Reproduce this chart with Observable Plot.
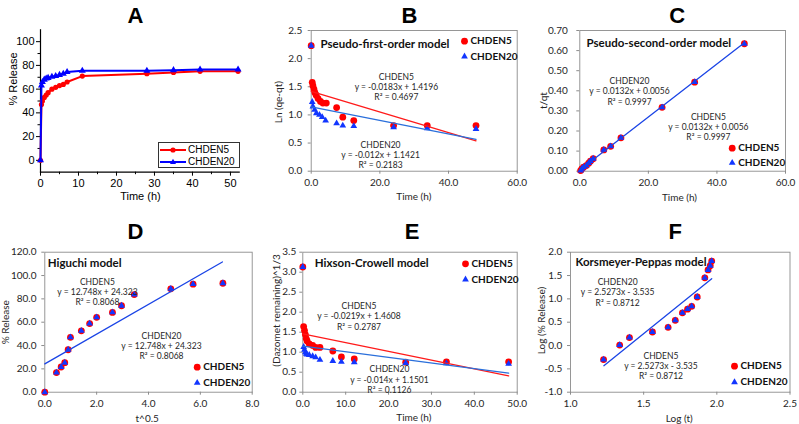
<!DOCTYPE html>
<html><head><meta charset="utf-8">
<script src="https://cdn.jsdelivr.net/npm/d3@7"></script>
<script src="https://cdn.jsdelivr.net/npm/@observablehq/plot@0.6"></script>
<style>
html,body{margin:0;padding:0;background:#fff;}
#wrap{position:relative;width:799px;height:424px;overflow:hidden;background:#fff;}
.cell{position:absolute;}
.cell svg{display:block;overflow:visible;}
.legA{position:absolute;left:158px;top:142px;width:80px;height:24px;border:1px solid #333;background:#fff;font-family:"Liberation Sans",Arial,sans-serif;font-size:10px;color:#000;}
.legA .row{position:absolute;left:0;height:12px;display:flex;align-items:center;}
.legA svg{display:block;}
</style></head><body>
<div id="wrap"></div>
<script>
// ================= DATA =================
// Panel A: cumulative release
const aTime    = [0, 0.25, 0.5, 1, 1.5, 2, 3, 4, 5, 6, 7, 11, 28, 35, 42, 52];
const aCHDEN5  = [0, 47, 50, 53, 55, 57, 60, 61.5, 63, 64, 66, 71, 73, 74, 75, 75];
const aCHDEN20 = [0, 63, 66, 68, 69, 69.5, 70.5, 71, 72, 73, 74.5, 75.5, 75.5, 76, 76.5, 76.5];
const aXTicks = [0, 10, 20, 30, 40, 50];
const aXMinor = [5, 15, 25, 35, 45];
const aYTicks = [0, 20, 40, 60, 80, 100];
const aYMinor = [10, 30, 50, 70, 90];

// Panel B: pseudo-first-order
const bTime5  = [0, 0.3, 0.5, 0.8, 1.05, 1.45, 2, 2.7, 3.4, 4.4, 7.4, 9.2, 12.4, 24, 33.8, 48];
const bLn5    = [2.23, 1.58, 1.52, 1.46, 1.40, 1.35, 1.29, 1.24, 1.21, 1.21, 1.13, 0.96, 0.90, 0.81, 0.81, 0.81];
const bTime20 = [0, 0.3, 0.5, 1, 1.5, 2.4, 3.2, 4.2, 7.4, 9.2, 12.4, 24, 33.8, 48];
const bLn20   = [2.23, 1.23, 1.15, 1.09, 1.03, 1.0, 0.96, 0.90, 0.85, 0.81, 0.80, 0.78, 0.76, 0.75];
const bFitTime = [0, 48];
const bFit5    = [1.42, 0.54];
const bFit20   = [1.142, 0.566];
const bXTicks = [0, 20, 40, 60];
const bYTicks = [0, 0.5, 1, 1.5, 2, 2.5];

// Panel C: pseudo-second-order
const cTime  = [0.25, 0.6, 1.1, 1.9, 2.6, 3.1, 3.9, 7, 9, 12, 24, 33.5, 48];
const cRatio = [0.003, 0.012, 0.02, 0.028, 0.04, 0.05, 0.062, 0.106, 0.124, 0.166, 0.318, 0.443, 0.634];
const cFitTime = [0, 48];
const cFit     = [0.0056, 0.6392];
const cXTicks = [0, 20, 40, 60];
const cYTicks = [0, 0.1, 0.2, 0.3, 0.4, 0.5, 0.6, 0.7];

// Panel D: Higuchi
const dSqrtT   = [0, 0.45, 0.63, 0.77, 0.9, 0.99, 1.41, 1.73, 2.0, 2.61, 2.96, 3.45, 4.86, 5.72, 6.87];
const dRelease = [0, 16.8, 21.6, 25.3, 36.4, 47.0, 52.6, 58.8, 64.2, 68.4, 74.1, 83.7, 88.6, 92.6, 93.4];
const dFitX = [0, 6.85];
const dFit  = [24.323, 111.65];
const dXTicks = [0, 2, 4, 6, 8];
const dYTicks = [0, 20, 40, 60, 80, 100, 120];

// Panel E: Hixson-Crowell
const eTime   = [0, 0.2, 0.4, 0.6, 0.8, 1.0, 1.5, 2.3, 3.0, 4.0, 7, 9, 12, 24, 33.5, 48];
const eVal5   = [3.13, 1.64, 1.54, 1.44, 1.34, 1.28, 1.21, 1.17, 1.12, 1.12, 1.03, 0.88, 0.83, 0.75, 0.76, 0.76];
const eVal20  = [3.13, 1.13, 1.06, 1.0, 0.96, 0.94, 0.93, 0.90, 0.87, 0.81, 0.78, 0.76, 0.75, 0.73, 0.72, 0.71];
const eFitTime = [0, 48];
const eFit5    = [1.4608, 0.4096];
const eFit20   = [1.1501, 0.4781];
const eXTicks = [0, 10, 20, 30, 40, 50];
const eYTicks = [0, 0.5, 1, 1.5, 2, 2.5, 3, 3.5];

// Panel F: Korsmeyer-Peppas
const fLogT   = [1.226, 1.336, 1.403, 1.56, 1.667, 1.716, 1.765, 1.80, 1.828, 1.866, 1.918, 1.94, 1.955, 1.965];
const fLogRel = [-0.30, 0.01, 0.17, 0.29, 0.39, 0.54, 0.70, 0.78, 0.84, 1.04, 1.45, 1.62, 1.71, 1.81];
const fFitX = [1.228, 1.965];
const fFit  = [-0.432, 1.431];
const fXTicks = [1, 1.5, 2, 2.5];
const fYTicks = [-1, -0.5, 0, 0.5, 1, 1.5, 2];

const seriesNames = ["CHDEN5", "CHDEN20"];

// ================= HELPERS =================
const zip = (xs, ys) => xs.map((x, i) => ({x, y: ys[i]}));
const RED = "#ff0000", BLUE = "#1236ff";
const AX = "#8c8c8c", TXT = "#262626";
const FONT_X = "Lato, 'Open Sans', 'Liberation Sans', sans-serif";
const FONT_A = "'Liberation Sans', Arial, sans-serif";
const f1 = d => d.toFixed(1), f2 = d => d.toFixed(2);

function place(node, left, top) {
  const d = document.createElement("div");
  d.className = "cell";
  d.style.left = left + "px"; d.style.top = top + "px";
  d.appendChild(node);
  document.getElementById("wrap").appendChild(d);
}

function excelPanel(c) {
  const marks = [
    Plot.axisX({ticks: c.xTicks, tickSize: 3, tickPadding: 4.4, tickFormat: c.xFmt, fontSize: 10, stroke: AX, fill: TXT, label: null}),
    Plot.axisY({ticks: c.yTicks, tickSize: 3, tickPadding: c.yPad, tickFormat: c.yFmt, fontSize: 10, stroke: AX, fill: TXT, label: null}),
    Plot.frame({stroke: AX, strokeWidth: 0.9}),
    Plot.dot(c.s5, {x: "x", y: "y", r: 3.4, fill: RED}),
    Plot.dot(c.s20, {x: "x", y: "y", r: 2.5, fill: BLUE, symbol: "triangle"}),
    ...c.fits.map(f => Plot.line(f.data, {x: "x", y: "y", stroke: f.color, strokeWidth: 1.3})),
    Plot.text([c.title], {frameAnchor: "top-left", dx: c.titlePos[0], dy: c.titlePos[1], textAnchor: "start", lineAnchor: "middle", fontWeight: "bold", fontSize: 11.5, fill: "#111"}),
    ...c.notes.map(n => Plot.text([n.text], {x: [n.at[0]], y: [n.at[1]], fontSize: 8.5, lineHeight: 1.2, fill: TXT, lineAnchor: "middle"})),
    Plot.dot([seriesNames[0]], {frameAnchor: "top-left", dx: c.leg[0], dy: c.leg[1], r: 3.4, fill: RED}),
    Plot.dot([seriesNames[1]], {frameAnchor: "top-left", dx: c.leg[0], dy: c.leg[2], r: 2.5, fill: BLUE, symbol: "triangle"}),
    Plot.text([seriesNames[0]], {frameAnchor: "top-left", dx: c.leg[0] + 6, dy: c.leg[1], textAnchor: "start", lineAnchor: "middle", fontWeight: "bold", fontSize: 10, fill: "#111"}),
    Plot.text([seriesNames[1]], {frameAnchor: "top-left", dx: c.leg[0] + 6, dy: c.leg[2], textAnchor: "start", lineAnchor: "middle", fontWeight: "bold", fontSize: 10, fill: "#111"}),
    Plot.text([c.yLabel], {frameAnchor: "left", dx: c.yLab[0], dy: c.yLab[1], rotate: -90, textAnchor: "middle", lineAnchor: "middle", fontSize: 10, fill: TXT}),
    Plot.text([c.xLabel], {frameAnchor: "bottom", dx: c.xLab[0], dy: c.xLab[1], textAnchor: "middle", lineAnchor: "middle", fontSize: 10, fill: TXT}),
    Plot.text([c.letter], {frameAnchor: "top", dx: c.letterPos[0], dy: c.letterPos[1], lineAnchor: "middle", fontSize: 22, fontWeight: "bold", fontFamily: FONT_A, fill: "#000"})
  ];
  const svg = Plot.plot({
    width: c.w, height: c.h,
    marginLeft: c.m[0], marginRight: c.m[1], marginTop: c.m[2], marginBottom: c.m[3],
    x: {domain: c.xDomain}, y: {domain: c.yDomain},
    style: {fontFamily: FONT_X, background: "transparent", overflow: "visible"},
    marks
  });
  place(svg, c.left, c.top);
}

// ================= PANEL A =================
(function () {
  const s5 = zip(aTime, aCHDEN5), s20 = zip(aTime, aCHDEN20);
  const svg = Plot.plot({
    width: 265, height: 210,
    marginLeft: 40, marginRight: 26.3, marginTop: 29.3, marginBottom: 38.3,
    x: {domain: [0, 52.3]}, y: {domain: [-10, 110]},
    style: {fontFamily: FONT_A, background: "transparent", overflow: "visible", color: "#000"},
    marks: [
      Plot.axisX({ticks: aXTicks, tickSize: 4, tickPadding: 3, tickFormat: d => String(d), fontSize: 11, label: null}),
      Plot.axisX({ticks: aXMinor, tickSize: 2.5, fill: "none", label: null}),
      Plot.axisY({ticks: aYTicks, tickSize: 4, tickPadding: 2, tickFormat: d => String(d), fontSize: 11, label: null}),
      Plot.axisY({ticks: aYMinor, tickSize: 2.5, fill: "none", label: null}),
      Plot.frame({anchor: "left", stroke: "#000", strokeWidth: 1.2}),
      Plot.frame({anchor: "bottom", stroke: "#000", strokeWidth: 1.2}),
      Plot.line(s5, {x: "x", y: "y", stroke: RED, strokeWidth: 2}),
      Plot.dot(s5, {x: "x", y: "y", r: 2.6, fill: RED}),
      Plot.line(s20, {x: "x", y: "y", stroke: "#0000ff", strokeWidth: 2}),
      Plot.dot(s20, {x: "x", y: "y", r: 2.6, fill: "#0000ff", symbol: "triangle"}),
      Plot.text(["% Release"], {frameAnchor: "left", dx: -26.7, dy: 4.5, rotate: -90, fontSize: 11}),
      Plot.text(["Time (h)"], {frameAnchor: "bottom", dx: 0.6, dy: 27.3, fontSize: 11}),
      Plot.text(["A"], {frameAnchor: "top", dx: -4.4, dy: -14.3, lineAnchor: "middle", fontSize: 22, fontWeight: "bold"})
    ]
  });
  place(svg, 0, 0);
  // legend for A
  const leg = document.createElement("div");
  leg.className = "legA";
  const rows = [
    {name: seriesNames[0], color: RED, sym: "circle"},
    {name: seriesNames[1], color: "#0000ff", sym: "triangle"}
  ];
  rows.forEach((r, i) => {
    const row = document.createElement("div");
    row.className = "row";
    row.style.top = (i === 0 ? 0.5 : 12.5) + "px";
    const marker = r.sym === "circle"
      ? `<circle cx="14" cy="6" r="2.6" fill="${r.color}"/>`
      : `<path d="M14,2.8L17,8L11,8Z" fill="${r.color}"/>`;
    row.innerHTML = `<svg width="29" height="12"><line x1="1" x2="27" y1="6" y2="6" stroke="${r.color}" stroke-width="2"/>${marker}</svg><span style="margin-left:0px">${r.name}</span>`;
    leg.appendChild(row);
  });
  document.getElementById("wrap").appendChild(leg);
})();

// ================= PANEL B =================
excelPanel({
  left: 265, top: 0, w: 270, h: 210, m: [45.7, 18.3, 30, 39.3],
  xDomain: [0, 60], yDomain: [0, 2.5], xTicks: bXTicks, yTicks: bYTicks, xFmt: f1, yFmt: f1, yPad: 6,
  s5: zip(bTime5, bLn5), s20: zip(bTime20, bLn20),
  fits: [{data: zip(bFitTime, bFit5), color: "#ff1a1a"}, {data: zip(bFitTime, bFit20), color: "#2a6fdb"}],
  title: "Pseudo-first-order model", titlePos: [9.3, 14],
  notes: [
    {text: "CHDEN5\ny = -0.0183x + 1.4196\nR² = 0.4697", at: [24.8, 1.505]},
    {text: "CHDEN20\ny = -0.012x + 1.1421\nR² = 0.2183", at: [20.2, 0.291]}
  ],
  leg: [153.3, 10.7, 26],
  yLabel: "Ln (qe-qt)", yLab: [-32.4, 1.3], xLabel: "Time (h)", xLab: [-0.4, 26],
  letter: "B", letterPos: [-4.7, -15]
});

// ================= PANEL C =================
excelPanel({
  left: 530, top: 0, w: 269, h: 210, m: [49.3, 14, 30, 39.3],
  xDomain: [0, 60], yDomain: [0, 0.7], xTicks: cXTicks, yTicks: cYTicks, xFmt: f1, yFmt: f2, yPad: 9,
  s5: zip(cTime, cRatio), s20: zip(cTime, cRatio),
  fits: [{data: zip(cFitTime, cFit), color: "#1a44e6"}],
  title: "Pseudo-second-order model", titlePos: [6.7, 13.3],
  notes: [
    {text: "CHDEN20\ny = 0.0132x + 0.0056\nR² = 0.9997", at: [14.5, 0.398]},
    {text: "CHDEN5\ny = 0.0132x + 0.0056\nR² = 0.9997", at: [37.5, 0.221]}
  ],
  leg: [152.4, 117.7, 132.3],
  yLabel: "t/qt", yLab: [-36, -0.3], xLabel: "Time (h)", xLab: [-3.2, 26.6],
  letter: "C", letterPos: [-5.5, -15]
});

// ================= PANEL D =================
excelPanel({
  left: 0, top: 210, w: 265, h: 214, m: [44.3, 13.3, 41.7, 32.3],
  xDomain: [0, 8], yDomain: [0, 120], xTicks: dXTicks, yTicks: dYTicks, xFmt: f1, yFmt: f1, yPad: 5.3,
  s5: zip(dSqrtT, dRelease), s20: zip(dSqrtT, dRelease),
  fits: [{data: zip(dFitX, dFit), color: "#1a44e6"}],
  title: "Higuchi model", titlePos: [3, 11.6],
  notes: [
    {text: "CHDEN5\ny = 12.748x + 24.323\nR² = 0.8068", at: [2.03, 86.3]},
    {text: "CHDEN20\ny = 12.748x + 24.323\nR² = 0.8068", at: [4.5, 40.0]}
  ],
  leg: [152.4, 115, 130.6],
  yLabel: "% Release", yLab: [-39, 0], xLabel: "t^0.5", xLab: [-1.3, 26.6],
  letter: "D", letterPos: [-13, -20]
});

// ================= PANEL E =================
excelPanel({
  left: 265, top: 210, w: 270, h: 214, m: [37.3, 18.3, 41.7, 32.3],
  xDomain: [0, 50], yDomain: [0, 3.5], xTicks: eXTicks, yTicks: eYTicks, xFmt: f1, yFmt: f1, yPad: 3.6,
  s5: zip(eTime, eVal5), s20: zip(eTime, eVal20),
  fits: [{data: zip(eFitTime, eFit5), color: "#ff1a1a"}, {data: zip(eFitTime, eFit20), color: "#2a6fdb"}],
  title: "Hixson-Crowell model", titlePos: [12, 11.6],
  notes: [
    {text: "CHDEN5\ny = -0.0219x + 1.4608\nR² = 0.2787", at: [13.1, 1.9]},
    {text: "CHDEN20\ny = -0.014x + 1.1501\nR² = 0.1126", at: [20.2, 0.32]}
  ],
  leg: [162.7, 11.6, 27.3],
  yLabel: "(Dazomet remaining)^1/3", yLab: [-25.6, -11.7], xLabel: "Time (h)", xLab: [3.8, 25.6],
  letter: "E", letterPos: [2.2, -20]
});

// ================= PANEL F =================
excelPanel({
  left: 530, top: 210, w: 269, h: 214, m: [40, 9.5, 41.7, 32.3],
  xDomain: [1, 2.5], yDomain: [-1, 2], xTicks: fXTicks, yTicks: fYTicks, xFmt: f1, yFmt: f1, yPad: 5.3,
  s5: zip(fLogT, fLogRel), s20: zip(fLogT, fLogRel),
  fits: [{data: zip(fFitX, fFit), color: "#1a44e6"}],
  title: "Korsmeyer-Peppas model", titlePos: [5, 10.6],
  notes: [
    {text: "CHDEN20\ny = 2.5273x - 3.535\nR² = 0.8712", at: [1.322, 1.143]},
    {text: "CHDEN5\ny = 2.5273x - 3.535\nR² = 0.8712", at: [1.618, -0.428]}
  ],
  leg: [164, 114, 130],
  yLabel: "Log (% Release)", yLab: [-29, -1.7], xLabel: "Log (t)", xLab: [-1, 26.6],
  letter: "F", letterPos: [-5, -20]
});
</script>
</body></html>
